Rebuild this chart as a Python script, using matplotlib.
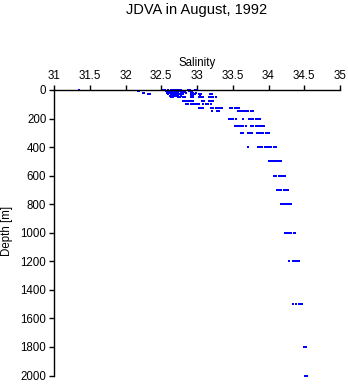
import matplotlib
matplotlib.use("Agg")
import matplotlib.pyplot as plt

plt.rcParams['font.family'] = ['Liberation Sans', 'DejaVu Sans']

depths = [0, 5, 10, 15, 20, 25, 30, 40, 50, 75, 100, 125, 150, 200, 250, 300,
          400, 500, 600, 700, 800, 1000, 1200, 1500, 1800, 2000]

s0 = [31.35, 32.53, 32.55, 32.60, 32.63, 32.66, 32.69, 32.72, 32.75, 32.78, 32.87, 32.90, 32.97, 33.00]
s5 = [32.58, 32.61, 32.64, 32.67, 32.70, 32.73, 32.76, 32.79, 32.82]
s10 = [32.17, 32.19, 32.57, 32.60, 32.63, 32.66, 32.70, 32.73, 32.76, 32.80, 32.83, 32.89, 32.93]
s15 = [32.59, 32.62, 32.65, 32.68, 32.71, 32.74, 32.77, 32.80, 32.83, 32.91]
s20 = [32.24, 32.26, 32.58, 32.61, 32.64, 32.67, 32.70, 32.74, 32.77, 32.81, 32.84, 32.95, 32.98]
s25 = [32.60, 32.63, 32.66, 32.69, 32.72, 32.75, 32.78]
s30 = [32.31, 32.34, 32.60, 32.63, 32.66, 32.70, 32.73, 32.76, 32.80, 32.91, 32.94, 32.97, 33.03, 33.06, 33.18, 33.21]
s40 = [32.62, 32.65, 32.68, 32.71, 32.74, 32.77, 32.92, 32.95, 33.04]
s50 = [32.64, 32.67, 32.73, 32.76, 32.80, 32.83, 32.92, 32.95, 33.03, 33.06, 33.09, 33.17, 33.20, 33.23, 33.26]
s75 = [32.80, 32.83, 32.86, 32.89, 32.92, 32.95, 33.07, 33.10, 33.17, 33.20, 33.23]
s100 = [32.85, 32.88, 32.91, 32.94, 32.97, 33.00, 33.03, 33.09, 33.12, 33.16, 33.19]
s125 = [33.03, 33.06, 33.09, 33.20, 33.23, 33.26, 33.29, 33.32, 33.35, 33.46, 33.49, 33.53, 33.56, 33.59]
s150 = [33.21, 33.28, 33.31, 33.57, 33.60, 33.63, 33.66, 33.69, 33.72, 33.75, 33.78]
s200 = [33.45, 33.48, 33.51, 33.54, 33.65, 33.73, 33.76, 33.79, 33.82, 33.85, 33.88]
s250 = [33.53, 33.56, 33.59, 33.62, 33.65, 33.68, 33.76, 33.79, 33.82, 33.85, 33.88, 33.91, 33.94]
s300 = [33.61, 33.64, 33.71, 33.74, 33.77, 33.84, 33.87, 33.90, 33.93, 33.96, 33.99, 34.01]
s400 = [33.71, 33.85, 33.88, 33.91, 33.95, 33.98, 34.01, 34.04, 34.07, 34.10]
s500 = [34.00, 34.03, 34.06, 34.09, 34.12, 34.15, 34.17]
s600 = [34.08, 34.11, 34.14, 34.17, 34.20, 34.23]
s700 = [34.12, 34.15, 34.18, 34.21, 34.24, 34.27]
s800 = [34.17, 34.20, 34.23, 34.26, 34.29, 34.31]
s1000 = [34.23, 34.26, 34.29, 34.32, 34.35, 34.37]
s1200 = [34.28, 34.34, 34.37, 34.40, 34.42]
s1500 = [34.34, 34.39, 34.42, 34.45, 34.47]
s1800 = [34.50, 34.52]
s2000 = [34.51, 34.54]

salinity_by_depth = [s0, s5, s10, s15, s20, s25, s30, s40, s50, s75, s100, s125,
                     s150, s200, s250, s300, s400, s500, s600, s700, s800,
                     s1000, s1200, s1500, s1800, s2000]

xticks = [31, 31.5, 32, 32.5, 33, 33.5, 34, 34.5, 35]
xticklabels = ['31', '31.5', '32', '32.5', '33', '33.5', '34', '34.5', '35']
yticks = [0, 200, 400, 600, 800, 1000, 1200, 1400, 1600, 1800, 2000]

fig = plt.figure(figsize=(3.48, 3.84), dpi=100)
ax = fig.add_axes([54/348, 1-375.5/384, 286/348, 285.5/384])

xs, ys = [], []
for d, sl in zip(depths, salinity_by_depth):
    for s in sl:
        xs.append(s)
        ys.append(d)
ax.plot(xs, ys, 's', color='#0000ff', markersize=2.0, markeredgewidth=0,
        antialiased=False, clip_on=False)

ax.set_xlim(31, 35)
ax.set_ylim(2000, 0)
ax.set_xticks(xticks)
ax.set_xticklabels(xticklabels)
ax.set_yticks(yticks)
ax.xaxis.tick_top()
ax.xaxis.set_label_position('top')
for sp in ['right', 'bottom']:
    ax.spines[sp].set_visible(False)
for sp in ['left', 'top']:
    ax.spines[sp].set_linewidth(1.0)
ax.tick_params(axis='both', direction='out', length=3.5, width=1.0,
               labelsize=8.3, pad=2)
ax.set_xlabel('Salinity', fontsize=8.3, labelpad=3)
fig.text(7/348, 1-231/384, 'Depth [m]', rotation=90, ha='center', va='center',
         fontsize=8.3)
fig.text(197/348, 1-10/384, 'JDVA in August, 1992', ha='center', va='center',
         fontsize=10.5)

fig.savefig('out.png', dpi=100)
